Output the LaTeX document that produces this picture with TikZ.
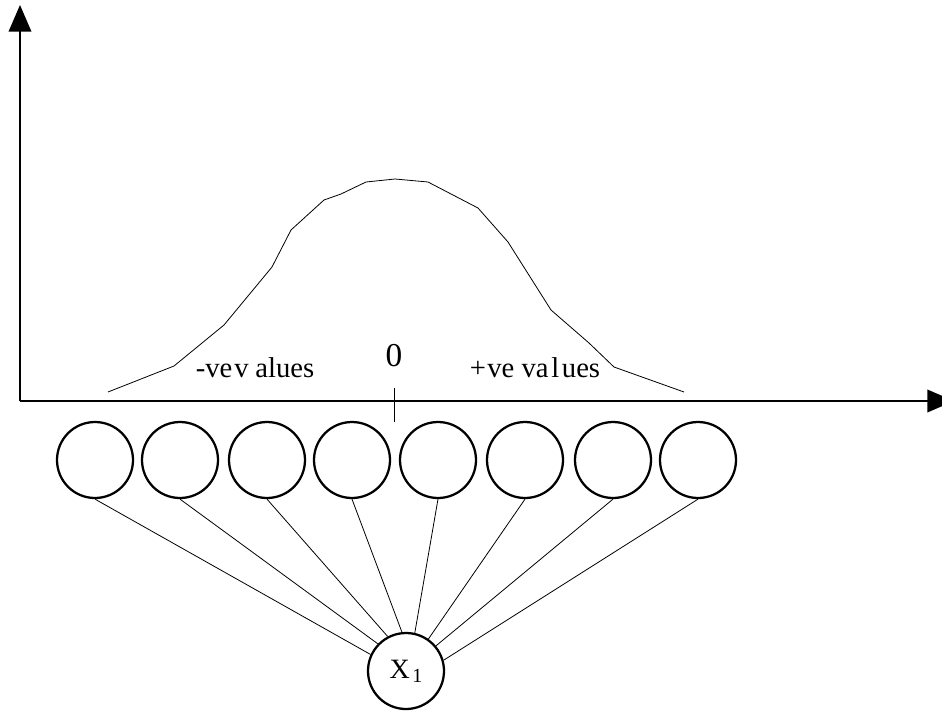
\documentclass[tikz,border=0pt]{standalone}
\usepackage{fontspec}
\setmainfont{Liberation Serif}
\usetikzlibrary{arrows.meta}

\begin{document}
\begin{tikzpicture}[x=0.75pt, y=-0.75pt,
  axis/.style={line width=1.1pt, -{Triangle[length=20pt, width=17pt]}},
  unit/.style={circle, draw, line width=1.7pt, minimum size=57pt, inner sep=0pt},
  link/.style={line width=0.6pt},
  lbl/.style={font=\fontsize{21.5}{25}\selectfont, inner sep=0pt}]
  \useasboundingbox (0,0) rectangle (942,711);

  % axes
  \coordinate (o) at (20,401);
  \coordinate (ytip) at (20,5);
  \coordinate (xtip) at (954,401);
  \draw[axis] (o) -- (ytip);
  \draw[axis] (o) -- (xtip);

  % tick at zero
  \coordinate (t1) at (394,388);
  \coordinate (t2) at (394,422);
  \draw[line width=0.6pt] (t1) -- (t2);

  % bell-shaped curve
  \draw[line width=0.6pt, line join=round]
    plot coordinates {(108,392) (174,366) (224,325) (272,267) (291,230)
      (324,200) (341,194) (366,182) (395,179) (428,182) (478,208)
      (508,242) (551,310) (589,343) (614,367) (684,392)};

  % labels
  \node[lbl] (neg) at (255,368) {-ve\kern1.5pt v\kern5pt alues};
  \node[lbl] (pos) at (535,368) {+\kern1pt ve va\kern2pt l\kern2pt ues};
  \node[font=\fontsize{25}{29}\selectfont, inner sep=0pt] (zero) at (394,356) {0};

  % input units
  \foreach \i/\x in {1/95,2/180,3/267,4/352,5/438,6/525,7/613,8/698}
    \node[unit] (n\i) at (\x,460) {};

  % output unit
  \node[unit] (x1) at (406,671) {\fontsize{21}{25}\selectfont X\kern2pt\raisebox{-3pt}{\fontsize{15}{17}\selectfont 1}};

  % connections
  \foreach \i/\a in {1/155,2/136,3/118,4/96,5/77,6/55,7/40,8/16}
    \draw[link] (n\i.south) -- (x1.\a);
\end{tikzpicture}
\end{document}
